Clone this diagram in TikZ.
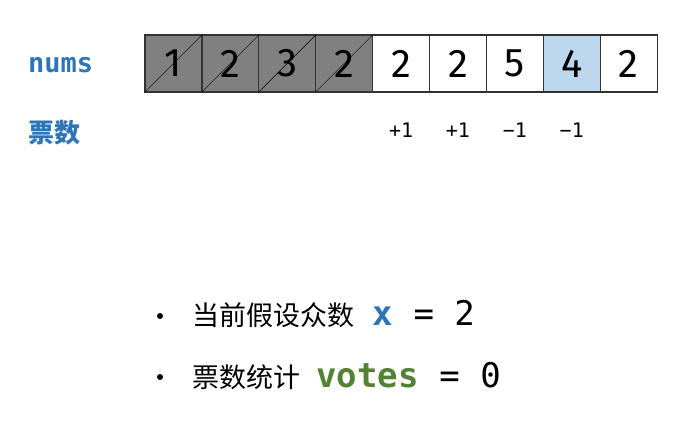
\documentclass[tikz,border=0pt]{standalone}
\usepackage{fontspec}
\setmainfont{Fira Sans}
\setmonofont{DejaVu Sans Mono}
\newfontfamily\cjk{Noto Sans CJK SC}
\usetikzlibrary{positioning}
\definecolor{numblue}{HTML}{2E75B6}
\definecolor{curblue}{HTML}{BDD7EE}
\definecolor{donegray}{HTML}{808080}
\definecolor{votegreen}{HTML}{548235}

\begin{document}
\begin{tikzpicture}[x=1pt,y=-1pt,
    cell/.style={draw=black!80,line width=1.2pt,minimum width=56.9pt,
                 minimum height=56.9pt,inner sep=0pt,
                 font=\fontsize{40}{40}\selectfont},
    done/.style={cell,fill=donegray},
    cur/.style={cell,fill=curblue},
    rowlbl/.style={anchor=base west,inner sep=0pt,text=numblue},
    vote/.style={anchor=base,inner sep=0pt,font=\ttfamily\fontsize{20}{20}\selectfont},
    dot/.style={circle,fill=black,inner sep=0pt,minimum size=6pt},
    line/.style={anchor=base west,inner sep=0pt,font=\cjk\fontsize{27}{27}\selectfont},
    code/.style={anchor=base west,inner sep=0pt,font=\ttfamily\fontsize{34}{34}\selectfont},
  ]
  \useasboundingbox (0,0) rectangle (689,422);

  % array
  \foreach \v/\s [count=\i] in {1/done,2/done,3/done,2/done,2/cell,2/cell,5/cell,4/cur,2/cell}
    \node[\s] (c\i) at ({145+56.9*(\i-0.5)},63.5) {\v};
  \foreach \i in {1,...,4}
    \draw[thin] (c\i.south west) -- (c\i.north east);

  \node[rowlbl,font=\ttfamily\bfseries\fontsize{27}{27}\selectfont] (nums) at (28,73) {nums};
  \node[rowlbl,font=\cjk\bfseries\fontsize{26}{26}\selectfont] (piao) at (28,143) {票数};

  % votes per element
  \coordinate (tick) at (0,138);
  \foreach \t/\i in {+1/5,+1/6,−1/7,−1/8}
    \node[vote] (v\i) at (c\i |- tick) {\t};

  % state
  \node[dot] (b1) at (160,316) {};
  \node[line] (t1) at (192,326) {当前假设众数};
  \node[code,text=numblue,font=\ttfamily\bfseries\fontsize{34}{34}\selectfont] (x) at (372,326) {x};
  \node[code,anchor=base west] (xv) at (x.base east) {\ =\ 2};

  \node[dot] (b2) at (160,377) {};
  \node[line] (t2) at (192,388) {票数统计};
  \node[code,text=votegreen,font=\ttfamily\bfseries\fontsize{34}{34}\selectfont] (votes) at (316,388) {votes};
  \node[code,anchor=base west] (vv) at (votes.base east) {\ =\ 0};
\end{tikzpicture}
\end{document}
